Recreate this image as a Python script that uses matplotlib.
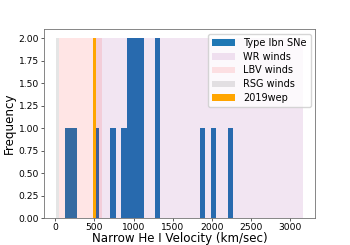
import numpy as np
import matplotlib
matplotlib.use("Agg")
import matplotlib.pyplot as plt

# Narrow He I velocities of Type Ibn SNe (km/s)
ibn_velocities = [130, 250, 500, 750, 880, 950, 950, 1000, 1000,
                  1100, 1100, 1300, 1300, 1900, 2000, 2272]
n_bins = 30

# wind velocity ranges (km/s): (low, high)
wr_range = (500, 3160)
lbv_range = (50, 600)
rsg_range = (10, 50)
wep_range = (480, 520)
span_height = 2

fig, ax = plt.subplots(figsize=(3.5, 2.45), dpi=100)

ax.hist(ibn_velocities, bins=n_bins, color='C0', label='Type Ibn SNe')
ax.bar(wr_range[0], span_height, width=wr_range[1] - wr_range[0], align='edge',
       color='purple', alpha=0.1, label='WR winds')
ax.bar(lbv_range[0], span_height, width=lbv_range[1] - lbv_range[0], align='edge',
       color='red', alpha=0.1, label='LBV winds')
ax.bar(rsg_range[0], span_height, width=rsg_range[1] - rsg_range[0], align='edge',
       color='k', alpha=0.1, label='RSG winds')
ax.bar(wep_range[0], span_height, width=wep_range[1] - wep_range[0], align='edge',
       color='orange', label='2019wep')

ax.set_xlabel('Narrow He I Velocity (km/sec)', fontsize=8.6, labelpad=0)
ax.set_ylabel('Frequency', fontsize=8.6, labelpad=2)
ax.set_yticks(np.arange(0, 2.01, 0.25))
ax.tick_params(labelsize=6.6, length=2, width=0.45, pad=1.5)
for s in ax.spines.values():
    s.set_linewidth(0.6)
    s.set_color('0.45')

ax.legend(fontsize=7, loc='upper right', borderaxespad=0.45, handlelength=2.4,
          labelspacing=0.4)

fig.savefig('out.png', dpi=100)
